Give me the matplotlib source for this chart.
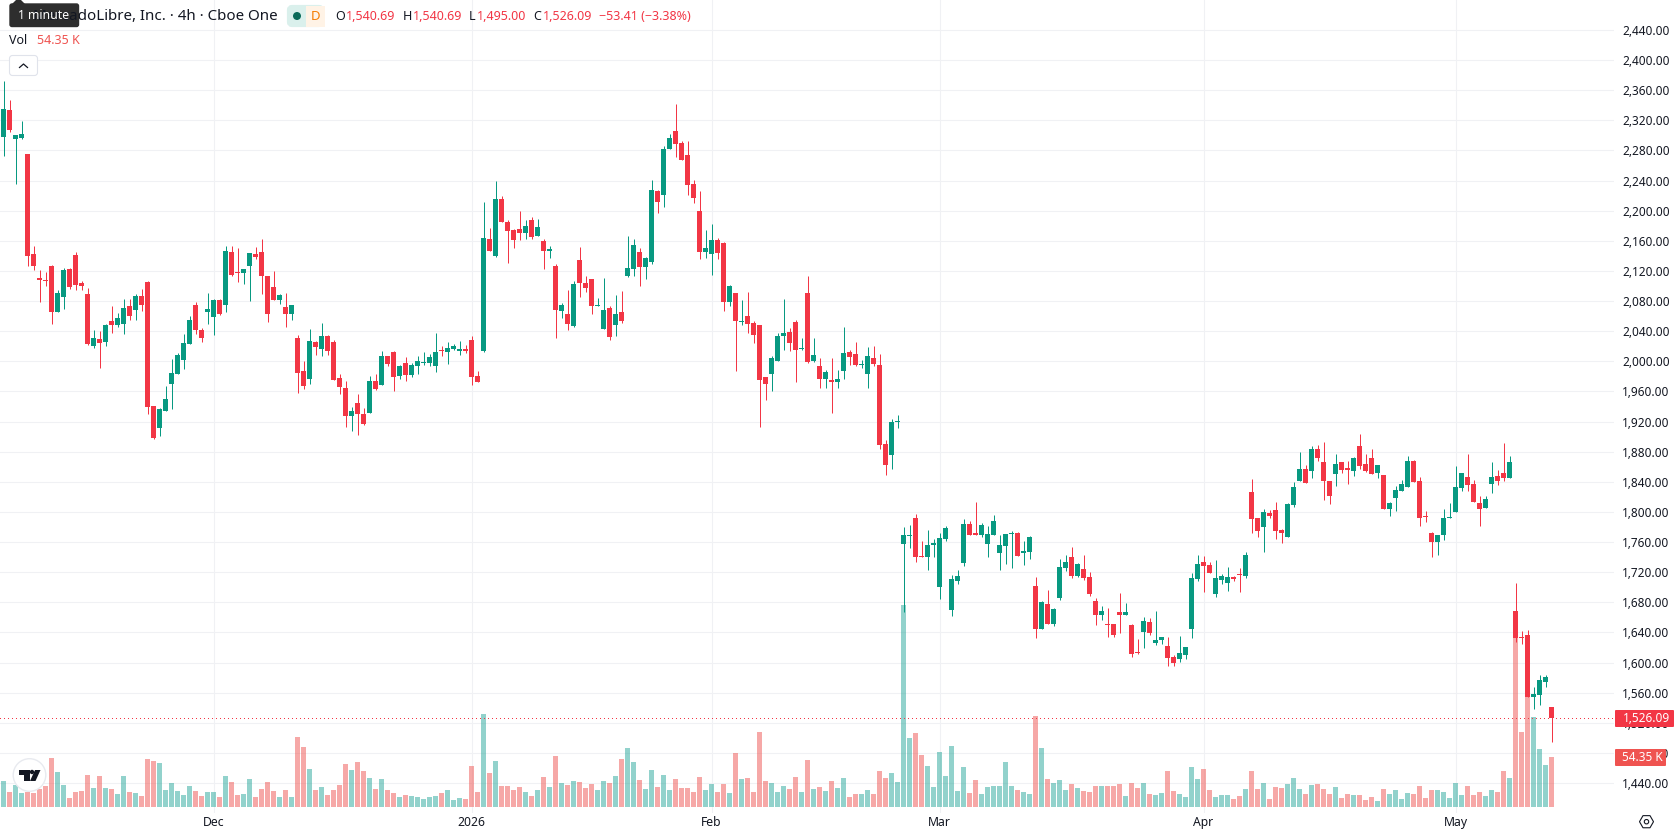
import matplotlib
matplotlib.use('Agg')
import matplotlib.pyplot as plt
from matplotlib.patches import Circle, FancyBboxPatch, Polygon, Rectangle, RegularPolygon

plt.rcParams['font.family'] = ['Noto Sans', 'DejaVu Sans']

# 4h candles, oldest first
opens = [
    2298, 2334, 2295, 2297, 2275, 2142.5, 2110.6, 2108, 2127, 2065.5,
    2085, 2122.6, 2141, 2104, 2089, 2020, 2029.6, 2025.6, 2053.6, 2048,
    2049.6, 2073.4, 2068, 2087, 2105, 1941, 1911.5, 1934, 1970, 1983,
    2002, 2023, 2075, 2042, 2065.5, 2059, 2081, 2075, 2145, 2119,
    2117.5, 2126.6, 2142.5, 2145, 2113, 2099, 2081, 2072, 2063, 2031,
    1987, 1976.5, 2026, 2017, 2034, 2026, 1978, 1964.6, 1927.4, 1944.7,
    1930, 1931.4, 1974, 1968.6, 2007, 2012.4, 1980.5, 1998, 1982, 1994,
    1998, 1998, 1994, 2015, 2012.4, 2016.4, 2013.7, 2016.4, 2028, 1980.5,
    2013.7, 2162.5, 2140, 2215.6, 2185, 2174.4, 2175.7, 2170.4, 2187.7, 2166.5,
    2159.8, 2146.5, 2126.6, 2066.8, 2063, 2047, 2134.6, 2104, 2109.3, 2073.5,
    2043, 2070.8, 2048.3, 2065.5, 2113.3, 2122.6, 2145.2, 2125.3, 2132, 2226.2,
    2220.9, 2282, 2305.9, 2290, 2274, 2235.5, 2199.7, 2145.2, 2142.5, 2161,
    2157, 2078.8, 2090.8, 2052.2, 2060.2, 2050.9, 2048.3, 1979.2, 1983.2, 2000.4,
    2033.6, 2039, 2052.2, 2016.4, 2090.8, 2000.4, 1993.8, 1976.5, 1975.2, 1972.6,
    1987.2, 2012.4, 2009.7, 1995, 1983.2, 2004.4, 1995, 1890.2, 1875.6, 1919.4,
    1757, 1767.6, 1791.5, 1741, 1739.7, 1755.7, 1699.9, 1763.6, 1669.3, 1707.8,
    1731.8, 1783.5, 1771.6, 1769, 1757, 1769, 1745, 1754.3, 1770.3, 1771.6,
    1745, 1746.4, 1701.2, 1644.1, 1677.3, 1650.7, 1685.3, 1725.1, 1739.7, 1714.5,
    1723.8, 1713.2, 1681.3, 1662.7, 1650.7, 1650.7, 1666.7, 1662.7, 1649.4, 1613.6,
    1640.1, 1653.4, 1625.5, 1629.5, 1621.5, 1606.9, 1604.3, 1609.6, 1644.1, 1710.5,
    1733, 1729.1, 1690.6, 1709.2, 1705.2, 1713.2, 1717.1, 1714.5, 1826, 1791.5,
    1779.6, 1798.2, 1802.1, 1775.6, 1766.3, 1808.8, 1840.7, 1856.6, 1853.9, 1883.2,
    1865.9, 1840.7, 1850, 1865.9, 1857.9, 1853.9, 1887.1, 1863.2, 1871.2, 1851.3,
    1848.6, 1803.5, 1818.1, 1827.4, 1832.7, 1867.2, 1840.7, 1794.2, 1771.6, 1759.6,
    1769, 1791.5, 1799.5, 1831.4, 1846, 1836.7, 1811.4, 1804.8, 1836.7, 1847.3,
    1851.3, 1844.6, 1668, 1633.5, 1636.1, 1553.8, 1556.4, 1573.7, 1540.69,
]
highs = [
    2372, 2347, 2301, 2319, 2275, 2153, 2121, 2118.6, 2128, 2095,
    2124, 2124, 2145, 2106.6, 2097, 2041.6, 2040, 2050, 2073.4, 2064,
    2083, 2083, 2089.6, 2096, 2106.6, 1941, 1938, 1967, 2003, 2011,
    2036, 2060, 2079, 2044, 2091, 2083, 2083, 2153, 2153, 2150,
    2123, 2144, 2152, 2162, 2113, 2120, 2089.6, 2091, 2075, 2035,
    2000.4, 2043, 2027, 2051, 2035.5, 2028.5, 1983, 1974, 1939, 1956.6,
    1938, 1980.5, 1983, 2013.7, 2007, 2013.7, 1995, 2006, 1998, 2007,
    2012, 2010, 2037.6, 2020, 2025.7, 2023, 2027, 2021.7, 2033.6, 1987,
    2211.6, 2177, 2239.5, 2219.6, 2187.7, 2175.7, 2199.7, 2187.7, 2191.7, 2189,
    2162.5, 2153, 2129, 2077.5, 2094.7, 2106.7, 2151.8, 2113.3, 2109.3, 2084,
    2110.7, 2073.5, 2088, 2093.4, 2166.5, 2162.5, 2150.5, 2138.6, 2240.8, 2227.5,
    2286, 2302, 2341.8, 2292.6, 2292.6, 2240.8, 2226.2, 2174.4, 2182.4, 2163.8,
    2158.5, 2101.4, 2090.8, 2081.5, 2092, 2053.6, 2048.3, 1979.2, 2007, 2037.6,
    2082.8, 2044.3, 2054.9, 2031, 2113.3, 2031, 2004.4, 1988.5, 2004.4, 1988.5,
    2045.6, 2015, 2025.7, 2001.8, 2019, 2020.4, 2009.7, 1895.5, 1923.4, 1928.7,
    1779.6, 1782.2, 1796.8, 1761, 1775.6, 1763.6, 1771.6, 1780.9, 1715.8, 1722.5,
    1790.2, 1787.5, 1812.8, 1784.9, 1780.9, 1795.5, 1769, 1770.3, 1774.3, 1773,
    1761, 1767.6, 1713.2, 1681.3, 1695.9, 1672, 1737, 1742.4, 1753, 1731.8,
    1742.4, 1719.8, 1685.3, 1674.6, 1672, 1650.7, 1691.9, 1678.6, 1650.7, 1630.8,
    1660, 1658.7, 1668, 1633.5, 1633.5, 1609.6, 1634.8, 1620.2, 1718.5, 1742.4,
    1741, 1733, 1735.7, 1717.1, 1726.4, 1714.5, 1725.1, 1746.4, 1843.3, 1791.5,
    1803.5, 1802.1, 1812.8, 1776.9, 1811.4, 1839.3, 1879.2, 1861.9, 1887.1, 1888.5,
    1892.5, 1840.7, 1876.5, 1865.9, 1867.2, 1872.5, 1903.1, 1876.5, 1883.2, 1861.9,
    1848.6, 1812.8, 1834, 1842, 1873.9, 1868.5, 1846, 1800.8, 1772.9, 1769,
    1803.5, 1811.4, 1860.6, 1851.3, 1876.5, 1842, 1820.7, 1820.7, 1865.9, 1855.3,
    1891.1, 1873.9, 1705.2, 1641.4, 1642.8, 1567, 1583, 1583, 1540.69,
]
lows = [
    2273, 2304.5, 2236, 2295, 2127, 2121, 2079, 2100, 2049.5, 2065,
    2069.5, 2096, 2094.7, 2094.7, 2021.6, 2017.6, 1991, 2020, 2037.6, 2045,
    2036, 2054.7, 2054.7, 2067, 1930, 1897, 1901, 1934, 1937, 1983,
    1990, 2023, 2036, 2026, 2049.6, 2035, 2061, 2066, 2113, 2105,
    2102.6, 2080, 2136, 2089, 2052, 2081, 2076, 2045.5, 2055, 1958,
    1963, 1970, 2008, 2006.5, 2008.5, 1975, 1956.6, 1913, 1907.5, 1902,
    1915.5, 1931.4, 1962, 1968.6, 1994, 1960.6, 1976.5, 1974, 1979, 1983,
    1995, 1994, 1986, 2007, 1996.5, 2015, 2008.4, 2011, 1968.6, 1972.6,
    2012.4, 2146.5, 2138.6, 2185, 2130.6, 2150.5, 2161, 2162.5, 2162.5, 2166.5,
    2122.6, 2137, 2031, 2057.5, 2041.6, 2045.6, 2085.4, 2092, 2062.9, 2073.5,
    2043, 2028.3, 2033.6, 2050.9, 2112, 2113.3, 2100, 2109.3, 2129.3, 2197,
    2205, 2282, 2271.4, 2267.4, 2221, 2210.3, 2136, 2137.2, 2114.7, 2136,
    2066.8, 2073.5, 1987.2, 2048.3, 2037.6, 2024.3, 1912.8, 1948.6, 1960.6, 2000.4,
    2015, 2013.7, 1972.6, 2015, 1997.8, 1999, 1964.6, 1964.6, 1931.4, 1964.6,
    1976.5, 1995, 1993.8, 1991.1, 1964.6, 1993.8, 1883.6, 1849, 1857, 1911.5,
    1666.7, 1751.7, 1733, 1739.7, 1722.5, 1739.7, 1684, 1761, 1661.4, 1703.9,
    1727.8, 1769, 1769, 1766.3, 1739.7, 1769, 1722.5, 1730.4, 1725.1, 1741,
    1729.1, 1737, 1632.1, 1644.1, 1650.7, 1648.1, 1682.6, 1721.1, 1711.8, 1713.2,
    1709.2, 1687.9, 1649.4, 1656, 1633.5, 1633.5, 1638.8, 1662.7, 1606.9, 1610.9,
    1618.9, 1636.1, 1622.9, 1624.2, 1595, 1595, 1600.3, 1604.3, 1632.1, 1707.8,
    1693.2, 1718.5, 1686.6, 1703.9, 1694.6, 1707.8, 1693.2, 1711.8, 1771.6, 1766.3,
    1746.4, 1791.5, 1763.6, 1758.3, 1766.3, 1806.1, 1840.7, 1838, 1844.6, 1867.2,
    1815.4, 1810.1, 1834, 1851.3, 1836.7, 1847.3, 1856.6, 1852.6, 1850, 1844.6,
    1803.5, 1794.2, 1800.8, 1827.4, 1832.7, 1839.3, 1780.9, 1786.2, 1739.7, 1742.4,
    1762.3, 1791.5, 1799.5, 1827.4, 1827.4, 1812.8, 1780.9, 1804.8, 1824.7, 1835.3,
    1840.7, 1844.6, 1626.8, 1624.2, 1553.8, 1537.9, 1543.2, 1567, 1495,
]
closes = [
    2335, 2307, 2300.5, 2302, 2140, 2126.6, 2108, 2106.6, 2065.5, 2091,
    2121, 2099, 2101, 2100, 2023, 2031, 2024, 2048, 2048, 2057.5,
    2071, 2060, 2087, 2075, 1939, 1898, 1937, 1950, 1984.5, 2008.4,
    2024, 2055, 2042, 2031, 2070, 2081.4, 2063, 2146.5, 2115, 2117.5,
    2122.6, 2144, 2138.5, 2113, 2063, 2081, 2088, 2063, 2075, 1984.5,
    1967, 2027, 2019, 2033, 2014, 1975, 1966, 1927.4, 1934, 1930,
    1917, 1974, 1963, 2007, 1996.5, 1979, 1994, 1982, 1995, 2000.4,
    1999, 2006, 2012.4, 2013.7, 2017.7, 2020, 2016.4, 2013.7, 1979, 1972.6,
    2163.8, 2146.5, 2215.6, 2185, 2173, 2161, 2170.4, 2179.7, 2165, 2178.4,
    2146.5, 2149, 2068, 2074.8, 2049.6, 2102.7, 2104, 2097.4, 2073.5, 2074.8,
    2068, 2032.3, 2062.9, 2053.6, 2124, 2154.5, 2125.3, 2137.2, 2227.5, 2211.6,
    2282, 2296.6, 2288.6, 2267.4, 2234.2, 2217, 2145.2, 2150.5, 2161, 2143.9,
    2078.8, 2100, 2053.6, 2053.6, 2049.6, 2035, 1975.2, 1969.9, 2004.4, 2033.6,
    2037.6, 2024.3, 2015, 2017.7, 1999, 2008.4, 1976.5, 1985.8, 1972.6, 1976.5,
    2011, 2005.8, 1995, 1996.5, 2007, 1996.5, 1888.9, 1862.3, 1919.4, 1920.8,
    1769, 1769, 1739.7, 1739.7, 1755.7, 1758.3, 1765, 1778.2, 1710.5, 1714.5,
    1783.5, 1769, 1769, 1782.2, 1770.3, 1787.5, 1755.7, 1770.3, 1771.6, 1741,
    1747.7, 1766.3, 1644.1, 1680, 1650.7, 1670.7, 1726.4, 1733, 1714.5, 1730.4,
    1711.8, 1690.6, 1662.7, 1668, 1649.4, 1636.1, 1662.7, 1666.7, 1610.9, 1612.2,
    1654.7, 1638.8, 1629.5, 1633.5, 1605.6, 1599, 1612.2, 1620.2, 1711.8, 1730.4,
    1727.8, 1718.5, 1711.8, 1714.5, 1713.2, 1710.5, 1715.8, 1742.4, 1790.2, 1774.3,
    1799.5, 1794.2, 1774.3, 1771.6, 1810.1, 1832.7, 1856.6, 1838.9, 1883.2, 1871.2,
    1840.7, 1820.7, 1863.2, 1855.3, 1855.3, 1871.2, 1860.6, 1853.9, 1850, 1861.9,
    1803.5, 1811.4, 1828.7, 1836.7, 1867.2, 1839.3, 1791.5, 1792.8, 1759.6, 1769,
    1791.5, 1792.8, 1832.7, 1851.3, 1835.3, 1812.8, 1803.5, 1816.8, 1846, 1840.7,
    1844.6, 1865.9, 1632.1, 1632.1, 1553.8, 1557.8, 1576.4, 1580.4, 1526.09,
]
# volume in thousands of shares
volumes = [
    28.5, 16.4, 24.1, 15.3, 16.4, 15.3, 19.7, 23.0, 53.6, 38.3,
    24.1, 9.8, 16.4, 17.5, 35.0, 20.8, 33.9, 20.8, 19.7, 14.2,
    33.9, 16.4, 15.3, 12.0, 52.5, 50.3, 48.2, 18.6, 26.3, 17.5,
    13.1, 23.0, 17.5, 12.0, 16.4, 16.4, 10.9, 33.9, 27.4, 13.1,
    14.2, 30.6, 10.9, 19.7, 27.4, 17.5, 10.9, 18.6, 10.9, 76.6,
    65.7, 41.6, 18.6, 21.9, 13.1, 18.6, 24.1, 47.1, 40.5, 49.2,
    39.4, 31.7, 19.7, 30.6, 18.6, 15.3, 10.9, 13.1, 12.0, 10.9,
    8.8, 10.9, 12.0, 15.3, 18.6, 7.7, 9.8, 8.8, 44.9, 16.4,
    101.8, 37.2, 50.3, 23.0, 23.0, 18.6, 21.9, 16.4, 12.0, 18.6,
    32.8, 21.9, 55.8, 26.3, 24.1, 28.5, 27.4, 20.8, 25.2, 18.6,
    28.5, 26.3, 33.9, 52.5, 64.6, 49.2, 29.5, 19.7, 40.5, 21.9,
    35.0, 18.6, 30.6, 20.8, 20.8, 16.4, 32.8, 18.6, 25.2, 16.4,
    25.2, 15.3, 59.1, 30.6, 31.7, 16.4, 82.1, 28.5, 26.3, 16.4,
    23.0, 19.7, 32.8, 16.4, 51.4, 19.7, 21.9, 17.5, 28.5, 20.8,
    31.7, 10.9, 14.2, 14.2, 18.6, 14.2, 39.4, 31.7, 37.2, 27.4,
    221.1, 75.5, 81.0, 56.9, 44.9, 21.9, 60.2, 33.9, 66.8, 17.5,
    43.8, 15.3, 29.5, 14.2, 21.9, 23.0, 23.0, 49.2, 23.0, 18.6,
    16.4, 14.2, 99.6, 64.6, 30.6, 26.3, 29.5, 18.6, 25.2, 20.8,
    17.5, 16.4, 23.0, 23.0, 23.0, 23.0, 25.2, 12.0, 26.3, 20.8,
    26.3, 14.2, 13.1, 15.3, 39.4, 17.5, 14.2, 10.9, 43.8, 30.6,
    41.6, 18.6, 10.9, 13.1, 13.1, 8.8, 12.0, 19.7, 39.4, 19.7,
    26.3, 8.8, 21.9, 20.8, 25.2, 31.7, 19.7, 14.2, 24.1, 25.2,
    19.7, 14.2, 21.9, 9.8, 14.2, 13.1, 13.1, 7.7, 10.9, 6.6,
    19.7, 14.2, 18.6, 8.8, 15.3, 14.2, 22.6, 9.5, 18.2, 18.2,
    16.1, 9.5, 25.9, 12.8, 22.6, 12.8, 16.1, 11.7, 18.2, 16.1,
    39.0, 31.4, 189.7, 81.7, 131.3, 98.1, 63.1, 45.6, 54.35,
]

# date labels sit on the candle that opens each period
date_ticks = [35, 78, 118, 156, 200, 242]
date_labels = ['Dec', '2026', 'Feb', 'Mar', 'Apr', 'May']
price_ticks = list(range(1440, 2441, 40))
last_price = 1526.09

GREEN = '#089981'
RED = '#F23645'
VOL_GREEN = '#26A69A'
VOL_RED = '#EF5350'
GRID = '#F0F1F4'
TEXT = '#131722'

W, H = 1678, 835
fig = plt.figure(figsize=(W / 100, H / 100), dpi=100, facecolor='white')
ax = fig.add_axes([0, (H - 813) / H, 1614 / W, 813 / H])
ax.set_facecolor('white')

# the volume scale only provides a transform, its bars stay in ax with the candles
vax = ax.twinx()
vax.axis('off')

xs = list(range(len(opens)))
up = [c >= o for o, c in zip(opens, closes)]
candle_colors = [GREEN if u else RED for u in up]
vol_colors = [VOL_GREEN if u else VOL_RED for u in up]

ax.bar(xs, volumes, width=5 / 6, color=vol_colors, alpha=0.5, linewidth=0,
       transform=vax.transData, zorder=1)
ax.vlines(xs, lows, highs, colors=candle_colors, linewidth=0.72, zorder=3)
ax.bar(xs, [abs(c - o) for o, c in zip(opens, closes)], bottom=[min(o, c) for o, c in zip(opens, closes)],
       width=5 / 6, color=candle_colors, linewidth=0, zorder=4)
ax.axhline(last_price, color=RED, linewidth=0.72, linestyle=(0, (1, 3)), antialiased=False, zorder=5)

ax.set_xlim(-3.5 / 6, (1614 - 3.5) / 6)
ax.set_ylim(1400.2, 2479.8)
vax.set_ylim(-6.57, 883.1)

ax.set_xticks(date_ticks)
ax.set_xticklabels(date_labels, fontsize=8.8, color=TEXT)
ax.get_xticklabels()[1].set_fontweight('bold')
ax.yaxis.tick_right()
ax.set_yticks(price_ticks)
ax.set_yticklabels([f'{p:,.2f}' for p in price_ticks], fontsize=8.5, color=TEXT)
ax.tick_params(axis='both', length=0)
ax.tick_params(axis='y', pad=6)
ax.tick_params(axis='x', pad=2)
ax.grid(True, color=GRID, linewidth=0.8, zorder=0)
ax.set_axisbelow(True)
for spine in ax.spines.values():
    spine.set_visible(False)

# legend row, tooltip and price tags, positioned in figure pixels
ov = fig.add_axes([0, 0, 1, 1], zorder=10)
ov.set_xlim(0, W)
ov.set_ylim(H, 0)
ov.axis('off')

ov.text(278, 16, 'MercadoLibre, Inc. · 4h · Cboe One', fontsize=10.9, color=TEXT, ha='right', va='center')

# tooltip over the symbol name
ov.add_patch(Polygon([(12, 4), (16, 0), (21, 0), (25, 4)], color='#2E2E2E', linewidth=0))
ov.add_patch(FancyBboxPatch((10, 4), 68.5, 22.5, boxstyle='round,pad=0,rounding_size=2',
                            facecolor='#2E2E2E', edgecolor='#2E2E2E', linewidth=1))
ov.text(44, 15.5, '1 minute', fontsize=8.8, color='white', ha='center', va='center')

# session pill
ov.add_patch(FancyBboxPatch((289, 7), 33, 18, boxstyle='round,pad=0,rounding_size=3',
                            facecolor='#DAF0EC', edgecolor='#DAF0EC', linewidth=3))
ov.add_patch(Rectangle((306, 5.5), 19, 21, facecolor='#FFF3E6', linewidth=0))
ov.add_patch(Circle((297, 16), 4, color='#0B6B5A', linewidth=0))
ov.text(315, 16, 'D', fontsize=9.5, color='#F57C00', fontweight='bold', ha='center', va='center')

for x, s in [(335, 'O'), (403, 'H'), (469, 'L'), (533.5, 'C')]:
    ov.text(x, 16, s, fontsize=9, color=TEXT, va='center')
for x, s in [(346, '1,540.69'), (413, '1,540.69'), (477, '1,495.00'), (543, '1,526.09'),
             (599, '−53.41 (−3.38%)')]:
    ov.text(x, 16, s, fontsize=9, color=RED, va='center')
ov.text(9, 40.5, 'Vol', fontsize=9, color=TEXT, va='center')
ov.text(37, 40.5, '54.35 K', fontsize=9, color=VOL_RED, va='center')

# collapse button
ov.add_patch(FancyBboxPatch((9.5, 55.5), 28, 20, boxstyle='round,pad=0,rounding_size=3',
                            facecolor='white', edgecolor='#E0E3EB', linewidth=0.8))
ov.plot([19.5, 23.5, 27.5], [67.5, 64, 67.5], color=TEXT, linewidth=0.9)

# price tags on the right scale
ov.add_patch(FancyBboxPatch((1615, 710), 59, 17, boxstyle='round,pad=0,rounding_size=1',
                            facecolor=RED, edgecolor=RED, linewidth=0))
ov.text(1622.5, 718.5, '1,526.09', fontsize=8.5, color='white', va='center')
ov.add_patch(FancyBboxPatch((1615, 749), 51, 17, boxstyle='round,pad=0,rounding_size=1',
                            facecolor=VOL_RED, edgecolor=VOL_RED, linewidth=0))
ov.text(1622.5, 757.5, '54.35 K', fontsize=8.5, color='white', va='center')

# logo badge
ov.add_patch(Circle((29.5, 775), 16.3, facecolor='white', edgecolor='#E8EAEF', linewidth=1))
ov.add_patch(Polygon([(19, 770), (29.5, 770), (29.5, 781), (24, 781), (24, 775), (19, 775)],
                     color='#131722', linewidth=0))
ov.add_patch(Polygon([(35, 770), (40.5, 770), (35.5, 781), (30, 781)], color='#131722', linewidth=0))
ov.add_patch(Circle((32, 772), 2.2, color='#131722', linewidth=0))

# settings icon
ov.add_patch(RegularPolygon((1646.5, 821.7), 6, radius=7, orientation=0.5236, facecolor='none',
                            edgecolor=TEXT, linewidth=0.8))
ov.add_patch(Circle((1646.5, 821.7), 2.2, facecolor='none', edgecolor=TEXT, linewidth=0.8))

fig.savefig('out.png', dpi=100)
